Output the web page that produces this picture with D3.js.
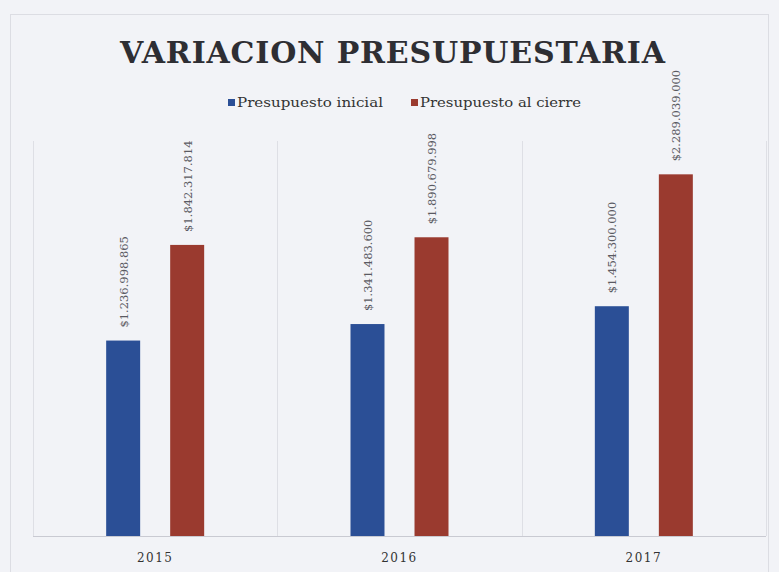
<!DOCTYPE html>
<html>
<head>
<meta charset="utf-8">
<script src="https://cdn.jsdelivr.net/npm/d3@7"></script>
<style>
  body { margin: 0; background: #f2f3f7; }
  svg { display: block; }
</style>
</head>
<body>
<script>
// data
var years = ['2015', '2016', '2017'];
var seriesNames = ['Presupuesto inicial', 'Presupuesto al cierre'];
var inicial = [1236998865, 1341483600, 1454300000];
var cierre = [1842317814, 1890679998, 2289039000];
var labelsInicial = ['$1.236.998.865', '$1.341.483.600', '$1.454.300.000'];
var labelsCierre = ['$1.842.317.814', '$1.890.679.998', '$2.289.039.000'];

var colors = ['#2b4f96', '#9a3a2f'];
var width = 779, height = 572;

var svg = d3.select('body').append('svg')
  .attr('width', width)
  .attr('height', height);

// outer frame
svg.append('rect')
  .attr('x', 10.5).attr('y', 14.5)
  .attr('width', 758).attr('height', 570)
  .attr('fill', 'none')
  .attr('stroke', '#dcdde3');

var x0 = d3.scaleBand().domain(years).range([33, 766]);
var x1 = d3.scaleBand().domain([0, 1]).range([0, 98]).paddingInner(0.469);
var y = d3.scaleLinear().domain([0, 2.5e9]).range([536, 141]);

var rows = years.map(function(yr, i) {
  return { year: yr, values: [
    { s: 0, v: inicial[i], label: labelsInicial[i] },
    { s: 1, v: cierre[i], label: labelsCierre[i] }
  ] };
});

// category separators
svg.selectAll('.sep')
  .data(years.concat(['end']))
  .enter().append('line')
  .attr('x1', function(d, i) { return Math.round(33 + i * x0.step()) + 0.5; })
  .attr('x2', function(d, i) { return Math.round(33 + i * x0.step()) + 0.5; })
  .attr('y1', y(2.5e9))
  .attr('y2', y(0))
  .attr('stroke', '#dedfe5');

// baseline
svg.append('line')
  .attr('x1', 33).attr('x2', 766)
  .attr('y1', y(0) + 0.5).attr('y2', y(0) + 0.5)
  .attr('stroke', '#c9cad2');

var groups = svg.selectAll('.grp')
  .data(rows)
  .enter().append('g')
  .attr('transform', function(d) { return 'translate(' + (x0(d.year) + x0.bandwidth() / 2 - 49) + ',0)'; });

groups.selectAll('rect')
  .data(function(d) { return d.values; })
  .enter().append('rect')
  .attr('x', function(d) { return x1(d.s); })
  .attr('width', x1.bandwidth())
  .attr('y', function(d) { return y(d.v); })
  .attr('height', function(d) { return y(0) - y(d.v); })
  .attr('fill', function(d) { return colors[d.s]; });

groups.selectAll('text')
  .data(function(d) { return d.values; })
  .enter().append('text')
  .attr('transform', function(d) {
    return 'translate(' + (x1(d.s) + x1.bandwidth() / 2 + 4.5) + ',' + (y(d.v) - 13) + ') rotate(-90)';
  })
  .attr('font-family', 'DejaVu Serif, serif')
  .attr('font-size', 11.5)
  .attr('fill', '#5a5a62')
  .text(function(d) { return d.label; });

// year labels
svg.selectAll('.yr')
  .data(years)
  .enter().append('text')
  .attr('x', function(d) { return x0(d) + x0.bandwidth() / 2; })
  .attr('y', 562)
  .attr('text-anchor', 'middle')
  .attr('font-family', 'DejaVu Serif, serif')
  .attr('font-size', 12)
  .attr('letter-spacing', 1.5)
  .attr('fill', '#333')
  .text(function(d) { return d; });

// title
svg.append('text')
  .attr('x', 120).attr('y', 63)
  .attr('textLength', 545)
  .attr('lengthAdjust', 'spacing')
  .attr('font-family', 'DejaVu Serif, serif')
  .attr('font-weight', 'bold')
  .attr('font-size', 30)
  .attr('fill', '#2e2e33')
  .text('VARIACION PRESUPUESTARIA');

// legend
var legX = [228, 411], legW = [146, 161];
seriesNames.forEach(function(name, i) {
  svg.append('rect')
    .attr('x', legX[i]).attr('y', 99)
    .attr('width', 7).attr('height', 7)
    .attr('fill', colors[i]);
  svg.append('text')
    .attr('x', legX[i] + 9).attr('y', 107)
    .attr('textLength', legW[i])
    .attr('lengthAdjust', 'spacingAndGlyphs')
    .attr('font-family', 'DejaVu Serif, serif')
    .attr('font-size', 13)
    .attr('fill', '#333')
    .text(name);
});
</script>
</body>
</html>
